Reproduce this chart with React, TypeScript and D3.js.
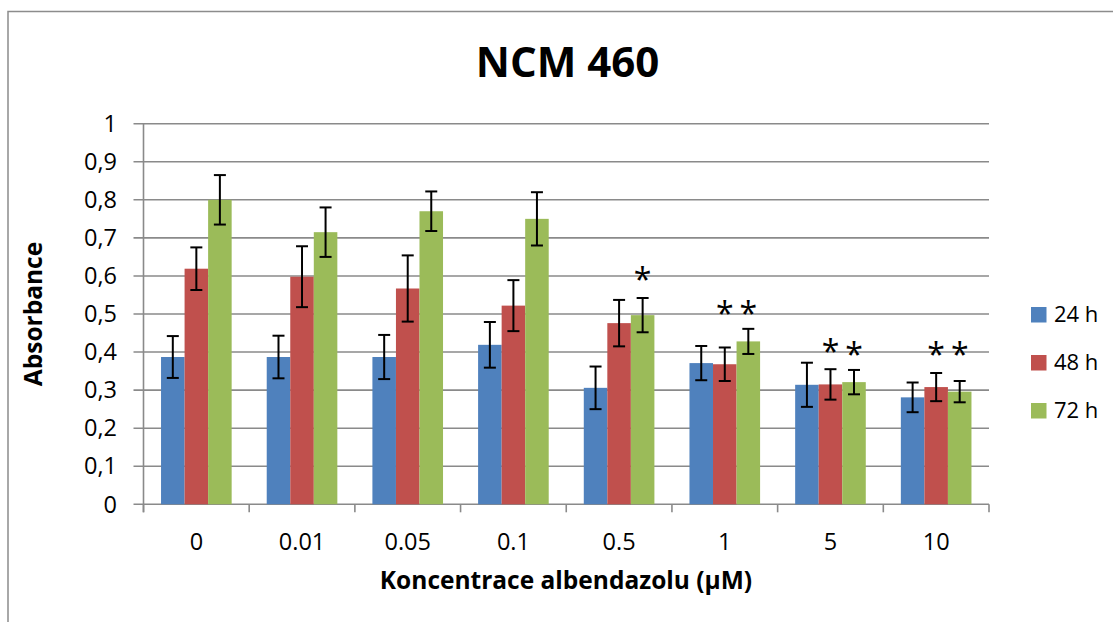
import React from 'react';
import * as d3 from 'd3';

const categories = ['0', '0.01', '0.05', '0.1', '0.5', '1', '5', '10'];
const seriesNames = ['24 h', '48 h', '72 h'];
const seriesColors = ['#4F81BD', '#C0504D', '#9BBB59'];

const values24 = [0.387, 0.387, 0.387, 0.419, 0.306, 0.371, 0.314, 0.281];
const errors24 = [0.055, 0.056, 0.058, 0.060, 0.056, 0.045, 0.058, 0.039];
const values48 = [0.619, 0.598, 0.567, 0.522, 0.476, 0.368, 0.315, 0.308];
const errors48 = [0.056, 0.080, 0.087, 0.067, 0.061, 0.044, 0.040, 0.037];
const values72 = [0.800, 0.715, 0.770, 0.750, 0.497, 0.428, 0.321, 0.296];
const errors72 = [0.065, 0.065, 0.052, 0.070, 0.045, 0.033, 0.032, 0.028];

const yTicks = [0, 0.1, 0.2, 0.3, 0.4, 0.5, 0.6, 0.7, 0.8, 0.9, 1];

// significance marks: category, series index, vertical position (data units)
const starCats = ['0.5', '1', '1', '5', '5', '10', '10'];
const starSeries = [2, 1, 2, 1, 2, 1, 2];
const starY = [0.608, 0.519, 0.519, 0.420, 0.413, 0.411, 0.411];

const title = 'NCM 460';
const xTitle = 'Koncentrace albendazolu (µM)';
const yTitle = 'Absorbance';

const W = 1113;
const H = 622;
const FONT = "'Open Sans', 'DejaVu Sans', sans-serif";

export default function App() {
  const left = 143.5;
  const right = 989;
  const top = 123.7;
  const bottom = 504.3;

  const x0 = d3.scaleBand<string>().domain(categories).range([left, right]).paddingInner(0).paddingOuter(0);
  const x1 = d3.scaleBand<string>().domain(seriesNames).range([0, x0.step()]).paddingInner(0).paddingOuter(0.745);
  const y = d3.scaleLinear().domain([0, 1]).range([bottom, top]);

  const vals = [values24, values48, values72];
  const errs = [errors24, errors48, errors72];
  const grid = '#8a8a8a';
  const fmt = (v: number) => d3.format('.1~f')(v).replace('.', ',');

  const boundaries = categories.map((c) => x0(c) as number).concat([right]);
  const starFs = 32;

  return (
    <svg width={W} height={H} style={{ position: 'absolute', left: 0, top: 0, background: '#fff' }} fontFamily={FONT}>
      <rect x={0} y={0} width={W} height={H} fill="#fff" />
      {/* outer chart border */}
      <rect x={8} y={11.5} width={W + 20} height={H + 20} fill="none" stroke="#8c8c8c" strokeWidth={1.5} />

      {/* title */}
      <text x={567.5} y={76.5} textAnchor="middle" fontWeight="bold" fontSize={42} fill="#000">{title}</text>

      {/* gridlines + y ticks */}
      {yTicks.map((t) => (
        <g key={'g' + t}>
          <line x1={left - 10} x2={right} y1={y(t)} y2={y(t)} stroke={grid} strokeWidth={1.6} />
          <text x={117} y={y(t)} dy="0.35em" textAnchor="end" fontSize={23.5} fill="#000">{fmt(t)}</text>
        </g>
      ))}
      {/* y axis line */}
      <line x1={left} x2={left} y1={top} y2={bottom + 8} stroke={grid} strokeWidth={1.6} />
      {/* x ticks */}
      {boundaries.map((b, i) => (
        <line key={'xt' + i} x1={b} x2={b} y1={bottom} y2={bottom + 8} stroke={grid} strokeWidth={1.6} />
      ))}

      {/* bars */}
      {seriesNames.map((s, si) => (
        <g key={s}>
          {categories.map((c, ci) => {
            const bx = (x0(c) as number) + (x1(s) as number);
            const v = vals[si][ci];
            return (
              <rect key={c} x={bx} y={y(v)} width={x1.bandwidth()} height={y(0) - y(v)} fill={seriesColors[si]} />
            );
          })}
        </g>
      ))}

      {/* error bars */}
      {seriesNames.map((s, si) => (
        <g key={'e' + s} stroke="#000" strokeWidth={2}>
          {categories.map((c, ci) => {
            const cx = (x0(c) as number) + (x1(s) as number) + x1.bandwidth() / 2;
            const v = vals[si][ci];
            const e = errs[si][ci];
            return (
              <g key={c}>
                <line x1={cx} x2={cx} y1={y(v + e)} y2={y(v - e)} />
                <line x1={cx - 6} x2={cx + 6} y1={y(v + e)} y2={y(v + e)} />
                <line x1={cx - 6} x2={cx + 6} y1={y(v - e)} y2={y(v - e)} />
              </g>
            );
          })}
        </g>
      ))}

      {/* significance stars */}
      {starCats.map((c, i) => {
        const s = seriesNames[starSeries[i]];
        const cx = (x0(c) as number) + (x1(s) as number) + x1.bandwidth() / 2;
        return (
          <text key={'st' + i} x={cx} y={y(starY[i]) + 0.58 * starFs} textAnchor="middle" fontSize={starFs} fill="#000">*</text>
        );
      })}

      {/* x tick labels */}
      {categories.map((c) => (
        <text key={'xl' + c} x={(x0(c) as number) + x0.step() / 2} y={542} dy="0.35em" textAnchor="middle" fontSize={23.5} fill="#000">{c}</text>
      ))}

      {/* axis titles */}
      <text x={566} y={580} dy="0.35em" textAnchor="middle" fontWeight="bold" fontSize={24.5} fill="#000">{xTitle}</text>
      <text transform={`translate(33,${(top + bottom) / 2}) rotate(-90)`} dy="0.35em" textAnchor="middle" fontWeight="bold" fontSize={24.5} fill="#000">{yTitle}</text>

      {/* legend */}
      {seriesNames.map((s, i) => (
        <g key={'l' + s} transform={`translate(1031,${307 + i * 48})`}>
          <rect x={0} y={0} width={15.5} height={15.5} fill={seriesColors[i]} />
          <text x={23} y={7.75} dy="0.35em" fontSize={22} fill="#000">{s}</text>
        </g>
      ))}
    </svg>
  );
}
